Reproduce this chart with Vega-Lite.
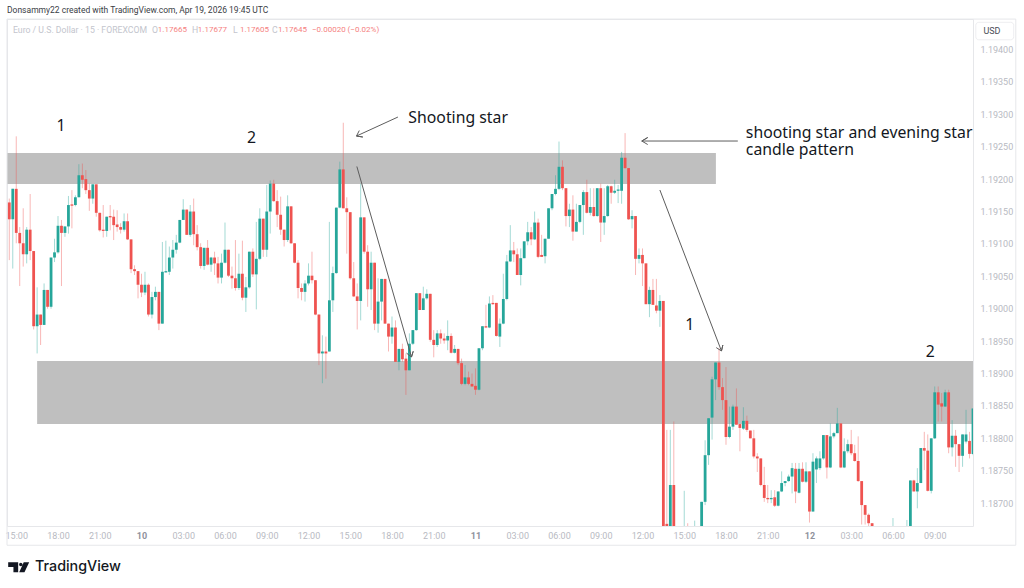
{
"$schema":"https://vega.github.io/schema/vega-lite/v6.json",
"autosize":{"type":"none"},
"padding":{"left":7,"top":19,"right":51,"bottom":62},
"width":966,
"height":507,
"background":"#ffffff",
"view":{"stroke":"#e6e7ea"},
"datasets":{
"zones":[{"x":-0.66,"x2":203.1,"top":1.192403,"bottom":1.191925},{"x":8,"x2":277,"top":1.189194,"bottom":1.188222}],
"frame":[{"n":0,"bar":-0.66,"price":1.18635},{"n":1,"bar":289.3,"price":1.18635},{"n":2,"bar":289.3,"price":1.19447},{"n":3,"bar":-0.66,"price":1.19447},{"n":4,"bar":-0.66,"price":1.18635}],
"arrows":[
{"id":"a1","n":0,"bar":99.9,"price":1.192195},{"id":"a1","n":1,"bar":115.6,"price":1.189255},{"id":"a1","n":2,"bar":116.1,"price":1.189343},{"id":"a1","n":3,"bar":115.6,"price":1.189255},{"id":"a1","n":4,"bar":114.2,"price":1.189314},
{"id":"a2","n":0,"bar":111.7,"price":1.192958},{"id":"a2","n":1,"bar":99.8,"price":1.192665},{"id":"a2","n":2,"bar":101.6,"price":1.19265},{"id":"a2","n":3,"bar":99.8,"price":1.192665},{"id":"a2","n":4,"bar":100.6,"price":1.19275},
{"id":"a3","n":0,"bar":209.4,"price":1.192588},{"id":"a3","n":1,"bar":181.8,"price":1.192588},{"id":"a3","n":2,"bar":183.5,"price":1.192642},{"id":"a3","n":3,"bar":181.8,"price":1.192588},{"id":"a3","n":4,"bar":183.5,"price":1.192534},
{"id":"a4","n":0,"bar":187,"price":1.191832},{"id":"a4","n":1,"bar":204.7,"price":1.189348},{"id":"a4","n":2,"bar":205.1,"price":1.18944},{"id":"a4","n":3,"bar":204.7,"price":1.189348},{"id":"a4","n":4,"bar":203.2,"price":1.1894}
],
"notes":[
{"label":"1","bar":13.6,"price":1.192815},{"label":"2","bar":68.3,"price":1.192635},{"label":"Shooting star","bar":114.7,"price":1.192945},
{"label":"shooting star and evening star\ncandle pattern","bar":211.7,"price":1.19271},
{"label":"1","bar":194.3,"price":1.189745},{"label":"2","bar":263.4,"price":1.189335}
],
"status":[
{"label":"Euro / U.S. Dollar · 15 · FOREXCOM","bar":1.06,"tone":"grey"},
{"label":"O","bar":41,"tone":"grey"},{"label":"1.17665","bar":42.7,"tone":"red"},
{"label":"H","bar":52.5,"tone":"grey"},{"label":"1.17677","bar":54.2,"tone":"red"},
{"label":"L","bar":64.3,"tone":"grey"},{"label":"1.17605","bar":66.3,"tone":"red"},
{"label":"C","bar":75.5,"tone":"grey"},{"label":"1.17645","bar":77.2,"tone":"red"},
{"label":"−0.00020 (−0.02%)","bar":87,"tone":"red"}
],
"candles":[
{"i":0,"o":1.19164,"h":1.19170,"l":1.19075,"c":1.19138},
{"i":1,"o":1.19138,"h":1.19185,"l":1.19062,"c":1.19185},
{"i":2,"o":1.19185,"h":1.19266,"l":1.19101,"c":1.19117},
{"i":3,"o":1.19117,"h":1.19126,"l":1.19035,"c":1.19101},
{"i":4,"o":1.19101,"h":1.19155,"l":1.19065,"c":1.19084},
{"i":5,"o":1.19084,"h":1.19126,"l":1.19070,"c":1.19122},
{"i":6,"o":1.19122,"h":1.19177,"l":1.19075,"c":1.19089},
{"i":7,"o":1.19089,"h":1.19089,"l":1.18968,"c":1.18973},
{"i":8,"o":1.18973,"h":1.19033,"l":1.18931,"c":1.18991},
{"i":9,"o":1.18991,"h":1.18991,"l":1.18944,"c":1.18975},
{"i":10,"o":1.18975,"h":1.19039,"l":1.18975,"c":1.19029},
{"i":11,"o":1.19029,"h":1.19029,"l":1.19000,"c":1.19003},
{"i":12,"o":1.19003,"h":1.19079,"l":1.19000,"c":1.19079},
{"i":13,"o":1.19079,"h":1.19108,"l":1.19072,"c":1.19087},
{"i":14,"o":1.19087,"h":1.19143,"l":1.19085,"c":1.19128},
{"i":15,"o":1.19128,"h":1.19137,"l":1.19035,"c":1.19117},
{"i":16,"o":1.19117,"h":1.19127,"l":1.19111,"c":1.19127},
{"i":17,"o":1.19127,"h":1.19174,"l":1.19116,"c":1.19160},
{"i":18,"o":1.19161,"h":1.19183,"l":1.19124,"c":1.19159},
{"i":19,"o":1.19160,"h":1.19175,"l":1.19158,"c":1.19172},
{"i":20,"o":1.19172,"h":1.19223,"l":1.19172,"c":1.19206},
{"i":21,"o":1.19206,"h":1.19224,"l":1.19186,"c":1.19199},
{"i":22,"o":1.19200,"h":1.19214,"l":1.19177,"c":1.19183},
{"i":23,"o":1.19183,"h":1.19193,"l":1.19151,"c":1.19170},
{"i":24,"o":1.19170,"h":1.19192,"l":1.19162,"c":1.19192},
{"i":25,"o":1.19192,"h":1.19192,"l":1.19142,"c":1.19148},
{"i":26,"o":1.19148,"h":1.19148,"l":1.19119,"c":1.19121},
{"i":27,"o":1.19122,"h":1.19160,"l":1.19110,"c":1.19120},
{"i":28,"o":1.19120,"h":1.19142,"l":1.19111,"c":1.19142},
{"i":29,"o":1.19143,"h":1.19160,"l":1.19121,"c":1.19141},
{"i":30,"o":1.19142,"h":1.19153,"l":1.19106,"c":1.19129},
{"i":31,"o":1.19130,"h":1.19152,"l":1.19119,"c":1.19126},
{"i":32,"o":1.19126,"h":1.19132,"l":1.19116,"c":1.19122},
{"i":33,"o":1.19122,"h":1.19147,"l":1.19119,"c":1.19135},
{"i":34,"o":1.19135,"h":1.19147,"l":1.19106,"c":1.19107},
{"i":35,"o":1.19107,"h":1.19107,"l":1.19055,"c":1.19061},
{"i":36,"o":1.19061,"h":1.19067,"l":1.19052,"c":1.19058},
{"i":37,"o":1.19058,"h":1.19058,"l":1.19016,"c":1.19037},
{"i":38,"o":1.19037,"h":1.19054,"l":1.19018,"c":1.19025},
{"i":39,"o":1.19025,"h":1.19057,"l":1.19021,"c":1.19037},
{"i":40,"o":1.19037,"h":1.19039,"l":1.18988,"c":1.18991},
{"i":41,"o":1.18991,"h":1.19026,"l":1.18985,"c":1.19018},
{"i":42,"o":1.19018,"h":1.19034,"l":1.19013,"c":1.19026},
{"i":43,"o":1.19026,"h":1.19026,"l":1.18967,"c":1.18977},
{"i":44,"o":1.18977,"h":1.19103,"l":1.18977,"c":1.19057},
{"i":45,"o":1.19056,"h":1.19105,"l":1.19056,"c":1.19058},
{"i":46,"o":1.19057,"h":1.19096,"l":1.19052,"c":1.19079},
{"i":47,"o":1.19079,"h":1.19106,"l":1.19062,"c":1.19091},
{"i":48,"o":1.19091,"h":1.19114,"l":1.19085,"c":1.19102},
{"i":49,"o":1.19102,"h":1.19137,"l":1.19101,"c":1.19137},
{"i":50,"o":1.19137,"h":1.19169,"l":1.19137,"c":1.19153},
{"i":51,"o":1.19153,"h":1.19153,"l":1.19114,"c":1.19114},
{"i":52,"o":1.19114,"h":1.19160,"l":1.19111,"c":1.19150},
{"i":53,"o":1.19150,"h":1.19170,"l":1.19098,"c":1.19115},
{"i":54,"o":1.19115,"h":1.19129,"l":1.19090,"c":1.19095},
{"i":55,"o":1.19095,"h":1.19101,"l":1.19062,"c":1.19066},
{"i":56,"o":1.19066,"h":1.19094,"l":1.19060,"c":1.19094},
{"i":57,"o":1.19094,"h":1.19106,"l":1.19067,"c":1.19068},
{"i":58,"o":1.19068,"h":1.19080,"l":1.19057,"c":1.19079},
{"i":59,"o":1.19079,"h":1.19088,"l":1.19052,"c":1.19070},
{"i":60,"o":1.19070,"h":1.19080,"l":1.19039,"c":1.19048},
{"i":61,"o":1.19048,"h":1.19085,"l":1.19039,"c":1.19071},
{"i":62,"o":1.19071,"h":1.19133,"l":1.19070,"c":1.19091},
{"i":63,"o":1.19091,"h":1.19091,"l":1.19049,"c":1.19051},
{"i":64,"o":1.19051,"h":1.19065,"l":1.19031,"c":1.19047},
{"i":65,"o":1.19047,"h":1.19106,"l":1.19028,"c":1.19032},
{"i":66,"o":1.19032,"h":1.19085,"l":1.19029,"c":1.19054},
{"i":67,"o":1.19054,"h":1.19105,"l":1.19013,"c":1.19017},
{"i":68,"o":1.19017,"h":1.19049,"l":1.18995,"c":1.19033},
{"i":69,"o":1.19033,"h":1.19088,"l":1.19031,"c":1.19088},
{"i":70,"o":1.19088,"h":1.19093,"l":1.19049,"c":1.19053},
{"i":71,"o":1.19053,"h":1.19134,"l":1.18999,"c":1.19077},
{"i":72,"o":1.19077,"h":1.19155,"l":1.19075,"c":1.19139},
{"i":73,"o":1.19139,"h":1.19139,"l":1.19080,"c":1.19091},
{"i":74,"o":1.19091,"h":1.19191,"l":1.19080,"c":1.19150},
{"i":75,"o":1.19150,"h":1.19198,"l":1.19116,"c":1.19193},
{"i":76,"o":1.19193,"h":1.19199,"l":1.19165,"c":1.19166},
{"i":77,"o":1.19166,"h":1.19183,"l":1.19126,"c":1.19145},
{"i":78,"o":1.19145,"h":1.19173,"l":1.19114,"c":1.19122},
{"i":79,"o":1.19122,"h":1.19122,"l":1.19096,"c":1.19106},
{"i":80,"o":1.19106,"h":1.19175,"l":1.19103,"c":1.19158},
{"i":81,"o":1.19158,"h":1.19158,"l":1.19100,"c":1.19101},
{"i":82,"o":1.19101,"h":1.19101,"l":1.19070,"c":1.19071},
{"i":83,"o":1.19071,"h":1.19075,"l":1.19016,"c":1.19032},
{"i":84,"o":1.19032,"h":1.19039,"l":1.19013,"c":1.19026},
{"i":85,"o":1.19026,"h":1.19044,"l":1.19011,"c":1.19039},
{"i":86,"o":1.19039,"h":1.19070,"l":1.19036,"c":1.19051},
{"i":87,"o":1.19051,"h":1.19088,"l":1.19039,"c":1.19044},
{"i":88,"o":1.19044,"h":1.19044,"l":1.18990,"c":1.18991},
{"i":89,"o":1.18991,"h":1.18991,"l":1.18913,"c":1.18931},
{"i":90,"o":1.18931,"h":1.18959,"l":1.18885,"c":1.18934},
{"i":91,"o":1.18934,"h":1.18957,"l":1.18892,"c":1.18931},
{"i":92,"o":1.18934,"h":1.19134,"l":1.18934,"c":1.19013},
{"i":93,"o":1.19013,"h":1.19065,"l":1.18995,"c":1.19055},
{"i":94,"o":1.19055,"h":1.19156,"l":1.19054,"c":1.19156},
{"i":95,"o":1.19156,"h":1.19227,"l":1.19155,"c":1.19215},
{"i":96,"o":1.19215,"h":1.19287,"l":1.19155,"c":1.19155},
{"i":97,"o":1.19155,"h":1.19172,"l":1.19085,"c":1.19149},
{"i":98,"o":1.19149,"h":1.19149,"l":1.19045,"c":1.19047},
{"i":99,"o":1.19047,"h":1.19072,"l":1.19018,"c":1.19019},
{"i":100,"o":1.19019,"h":1.19039,"l":1.18968,"c":1.19012},
{"i":101,"o":1.19012,"h":1.19193,"l":1.18982,"c":1.19141},
{"i":102,"o":1.19141,"h":1.19141,"l":1.19085,"c":1.19088},
{"i":103,"o":1.19088,"h":1.19098,"l":1.19003,"c":1.19030},
{"i":104,"o":1.19030,"h":1.19088,"l":1.18998,"c":1.19071},
{"i":105,"o":1.19071,"h":1.19071,"l":1.18967,"c":1.18977},
{"i":106,"o":1.18977,"h":1.19047,"l":1.18963,"c":1.19011},
{"i":107,"o":1.19011,"h":1.19046,"l":1.18982,"c":1.19046},
{"i":108,"o":1.19046,"h":1.19046,"l":1.18977,"c":1.18977},
{"i":109,"o":1.18977,"h":1.18977,"l":1.18934,"c":1.18957},
{"i":110,"o":1.18957,"h":1.18988,"l":1.18946,"c":1.18971},
{"i":111,"o":1.18971,"h":1.18982,"l":1.18918,"c":1.18918},
{"i":112,"o":1.18918,"h":1.18938,"l":1.18905,"c":1.18938},
{"i":113,"o":1.18938,"h":1.18946,"l":1.18918,"c":1.18922},
{"i":114,"o":1.18923,"h":1.18931,"l":1.18867,"c":1.18905},
{"i":115,"o":1.18905,"h":1.18962,"l":1.18905,"c":1.18946},
{"i":116,"o":1.18946,"h":1.18967,"l":1.18944,"c":1.18967},
{"i":117,"o":1.18967,"h":1.19024,"l":1.18966,"c":1.19024},
{"i":118,"o":1.19024,"h":1.19024,"l":1.18998,"c":1.18998},
{"i":119,"o":1.18998,"h":1.19034,"l":1.18998,"c":1.19016},
{"i":120,"o":1.19016,"h":1.19030,"l":1.19014,"c":1.19023},
{"i":121,"o":1.19023,"h":1.19023,"l":1.18949,"c":1.18952},
{"i":122,"o":1.18952,"h":1.18967,"l":1.18925,"c":1.18944},
{"i":123,"o":1.18944,"h":1.18967,"l":1.18941,"c":1.18962},
{"i":124,"o":1.18962,"h":1.18968,"l":1.18946,"c":1.18954},
{"i":125,"o":1.18954,"h":1.18962,"l":1.18946,"c":1.18951},
{"i":126,"o":1.18951,"h":1.18982,"l":1.18936,"c":1.18958},
{"i":127,"o":1.18958,"h":1.18962,"l":1.18931,"c":1.18932},
{"i":128,"o":1.18932,"h":1.18944,"l":1.18931,"c":1.18938},
{"i":129,"o":1.18938,"h":1.18938,"l":1.18913,"c":1.18916},
{"i":130,"o":1.18916,"h":1.18923,"l":1.18882,"c":1.18884},
{"i":131,"o":1.18884,"h":1.18913,"l":1.18882,"c":1.18894},
{"i":132,"o":1.18894,"h":1.18903,"l":1.18882,"c":1.18884},
{"i":133,"o":1.18884,"h":1.18900,"l":1.18880,"c":1.18880},
{"i":134,"o":1.18881,"h":1.18908,"l":1.18867,"c":1.18875},
{"i":135,"o":1.18875,"h":1.18939,"l":1.18874,"c":1.18939},
{"i":136,"o":1.18939,"h":1.18973,"l":1.18936,"c":1.18973},
{"i":137,"o":1.18973,"h":1.19006,"l":1.18970,"c":1.18971},
{"i":138,"o":1.18971,"h":1.19019,"l":1.18970,"c":1.19008},
{"i":139,"o":1.19009,"h":1.19021,"l":1.19006,"c":1.19007},
{"i":140,"o":1.19009,"h":1.19009,"l":1.18957,"c":1.18958},
{"i":141,"o":1.18957,"h":1.18985,"l":1.18941,"c":1.18977},
{"i":142,"o":1.18977,"h":1.19054,"l":1.18976,"c":1.19015},
{"i":143,"o":1.19015,"h":1.19083,"l":1.19013,"c":1.19073},
{"i":144,"o":1.19073,"h":1.19129,"l":1.19072,"c":1.19090},
{"i":145,"o":1.19090,"h":1.19103,"l":1.19072,"c":1.19084},
{"i":146,"o":1.19084,"h":1.19093,"l":1.19052,"c":1.19052},
{"i":147,"o":1.19052,"h":1.19093,"l":1.19036,"c":1.19078},
{"i":148,"o":1.19078,"h":1.19104,"l":1.19078,"c":1.19104},
{"i":149,"o":1.19104,"h":1.19134,"l":1.19098,"c":1.19118},
{"i":150,"o":1.19118,"h":1.19126,"l":1.19098,"c":1.19107},
{"i":151,"o":1.19107,"h":1.19150,"l":1.19106,"c":1.19133},
{"i":152,"o":1.19133,"h":1.19139,"l":1.19078,"c":1.19080},
{"i":153,"o":1.19083,"h":1.19114,"l":1.19080,"c":1.19080},
{"i":154,"o":1.19081,"h":1.19108,"l":1.19070,"c":1.19108},
{"i":155,"o":1.19108,"h":1.19155,"l":1.19108,"c":1.19155},
{"i":156,"o":1.19155,"h":1.19177,"l":1.19152,"c":1.19177},
{"i":157,"o":1.19177,"h":1.19206,"l":1.19175,"c":1.19185},
{"i":158,"o":1.19185,"h":1.19258,"l":1.19183,"c":1.19219},
{"i":159,"o":1.19219,"h":1.19229,"l":1.19183,"c":1.19186},
{"i":160,"o":1.19186,"h":1.19186,"l":1.19127,"c":1.19143},
{"i":161,"o":1.19143,"h":1.19162,"l":1.19126,"c":1.19153},
{"i":162,"o":1.19153,"h":1.19175,"l":1.19105,"c":1.19119},
{"i":163,"o":1.19119,"h":1.19162,"l":1.19119,"c":1.19134},
{"i":164,"o":1.19134,"h":1.19160,"l":1.19132,"c":1.19160},
{"i":165,"o":1.19160,"h":1.19183,"l":1.19114,"c":1.19180},
{"i":166,"o":1.19180,"h":1.19199,"l":1.19147,"c":1.19148},
{"i":167,"o":1.19148,"h":1.19186,"l":1.19144,"c":1.19157},
{"i":168,"o":1.19157,"h":1.19186,"l":1.19142,"c":1.19143},
{"i":169,"o":1.19143,"h":1.19186,"l":1.19142,"c":1.19186},
{"i":170,"o":1.19186,"h":1.19193,"l":1.19103,"c":1.19133},
{"i":171,"o":1.19133,"h":1.19186,"l":1.19114,"c":1.19143},
{"i":172,"o":1.19143,"h":1.19191,"l":1.19142,"c":1.19189},
{"i":173,"o":1.19189,"h":1.19190,"l":1.19162,"c":1.19179},
{"i":174,"o":1.19179,"h":1.19199,"l":1.19177,"c":1.19182},
{"i":175,"o":1.19182,"h":1.19191,"l":1.19163,"c":1.19184},
{"i":176,"o":1.19182,"h":1.19242,"l":1.19162,"c":1.19233},
{"i":177,"o":1.19233,"h":1.19271,"l":1.19216,"c":1.19217},
{"i":178,"o":1.19217,"h":1.19217,"l":1.19137,"c":1.19138},
{"i":179,"o":1.19138,"h":1.19152,"l":1.19124,"c":1.19143},
{"i":180,"o":1.19143,"h":1.19143,"l":1.19052,"c":1.19077},
{"i":181,"o":1.19077,"h":1.19093,"l":1.19070,"c":1.19083},
{"i":182,"o":1.19083,"h":1.19093,"l":1.19035,"c":1.19070},
{"i":183,"o":1.19070,"h":1.19070,"l":1.19007,"c":1.19007},
{"i":184,"o":1.19007,"h":1.19034,"l":1.18987,"c":1.19029},
{"i":185,"o":1.19029,"h":1.19046,"l":1.19006,"c":1.19006},
{"i":186,"o":1.19005,"h":1.19046,"l":1.18993,"c":1.18997},
{"i":187,"o":1.18997,"h":1.19021,"l":1.18972,"c":1.19012},
{"i":188,"o":1.19012,"h":1.19012,"l":1.18620,"c":1.18640},
{"i":189,"o":1.18668,"h":1.18813,"l":1.18620,"c":1.18650},
{"i":190,"o":1.18650,"h":1.18813,"l":1.18630,"c":1.18728},
{"i":191,"o":1.18728,"h":1.18826,"l":1.18620,"c":1.18640},
{"i":192,"o":1.18640,"h":1.18650,"l":1.18600,"c":1.18620},
{"i":193,"o":1.18620,"h":1.18640,"l":1.18590,"c":1.18600},
{"i":194,"o":1.18600,"h":1.18719,"l":1.18590,"c":1.18640},
{"i":195,"o":1.18640,"h":1.18669,"l":1.18600,"c":1.18620},
{"i":196,"o":1.18620,"h":1.18640,"l":1.18590,"c":1.18600},
{"i":197,"o":1.18600,"h":1.18673,"l":1.18590,"c":1.18635},
{"i":198,"o":1.18610,"h":1.18650,"l":1.18600,"c":1.18640},
{"i":199,"o":1.18640,"h":1.18702,"l":1.18630,"c":1.18702},
{"i":200,"o":1.18702,"h":1.18797,"l":1.18697,"c":1.18774},
{"i":201,"o":1.18774,"h":1.18831,"l":1.18759,"c":1.18831},
{"i":202,"o":1.18832,"h":1.18895,"l":1.18798,"c":1.18891},
{"i":203,"o":1.18891,"h":1.18917,"l":1.18859,"c":1.18917},
{"i":204,"o":1.18917,"h":1.18939,"l":1.18875,"c":1.18879},
{"i":205,"o":1.18879,"h":1.18893,"l":1.18844,"c":1.18859},
{"i":206,"o":1.18859,"h":1.18910,"l":1.18790,"c":1.18802},
{"i":207,"o":1.18802,"h":1.18849,"l":1.18800,"c":1.18818},
{"i":208,"o":1.18818,"h":1.18852,"l":1.18813,"c":1.18849},
{"i":209,"o":1.18849,"h":1.18877,"l":1.18821,"c":1.18821},
{"i":210,"o":1.18822,"h":1.18822,"l":1.18780,"c":1.18816},
{"i":211,"o":1.18815,"h":1.18848,"l":1.18813,"c":1.18827},
{"i":212,"o":1.18827,"h":1.18835,"l":1.18810,"c":1.18813},
{"i":213,"o":1.18812,"h":1.18812,"l":1.18800,"c":1.18800},
{"i":214,"o":1.18800,"h":1.18813,"l":1.18769,"c":1.18772},
{"i":215,"o":1.18772,"h":1.18777,"l":1.18748,"c":1.18769},
{"i":216,"o":1.18769,"h":1.18769,"l":1.18726,"c":1.18728},
{"i":217,"o":1.18728,"h":1.18756,"l":1.18702,"c":1.18708},
{"i":218,"o":1.18708,"h":1.18728,"l":1.18700,"c":1.18706},
{"i":219,"o":1.18706,"h":1.18720,"l":1.18700,"c":1.18708},
{"i":220,"o":1.18709,"h":1.18720,"l":1.18694,"c":1.18696},
{"i":221,"o":1.18696,"h":1.18718,"l":1.18695,"c":1.18718},
{"i":222,"o":1.18718,"h":1.18749,"l":1.18717,"c":1.18731},
{"i":223,"o":1.18731,"h":1.18734,"l":1.18726,"c":1.18734},
{"i":224,"o":1.18734,"h":1.18744,"l":1.18733,"c":1.18741},
{"i":225,"o":1.18741,"h":1.18762,"l":1.18715,"c":1.18754},
{"i":226,"o":1.18753,"h":1.18762,"l":1.18700,"c":1.18718},
{"i":227,"o":1.18716,"h":1.18762,"l":1.18715,"c":1.18753},
{"i":228,"o":1.18753,"h":1.18763,"l":1.18732,"c":1.18733},
{"i":229,"o":1.18733,"h":1.18763,"l":1.18731,"c":1.18749},
{"i":230,"o":1.18749,"h":1.18749,"l":1.18670,"c":1.18687},
{"i":231,"o":1.18687,"h":1.18777,"l":1.18687,"c":1.18764},
{"i":232,"o":1.18752,"h":1.18772,"l":1.18731,"c":1.18769},
{"i":233,"o":1.18754,"h":1.18780,"l":1.18751,"c":1.18769},
{"i":234,"o":1.18769,"h":1.18805,"l":1.18767,"c":1.18805},
{"i":235,"o":1.18805,"h":1.18805,"l":1.18738,"c":1.18755},
{"i":236,"o":1.18755,"h":1.18823,"l":1.18754,"c":1.18803},
{"i":237,"o":1.18803,"h":1.18810,"l":1.18800,"c":1.18808},
{"i":238,"o":1.18808,"h":1.18847,"l":1.18808,"c":1.18823},
{"i":239,"o":1.18823,"h":1.18823,"l":1.18754,"c":1.18755},
{"i":240,"o":1.18755,"h":1.18800,"l":1.18754,"c":1.18780},
{"i":241,"o":1.18780,"h":1.18798,"l":1.18777,"c":1.18791},
{"i":242,"o":1.18791,"h":1.18813,"l":1.18774,"c":1.18777},
{"i":243,"o":1.18777,"h":1.18790,"l":1.18764,"c":1.18765},
{"i":244,"o":1.18765,"h":1.18803,"l":1.18733,"c":1.18734},
{"i":245,"o":1.18734,"h":1.18734,"l":1.18667,"c":1.18697},
{"i":246,"o":1.18697,"h":1.18697,"l":1.18667,"c":1.18682},
{"i":247,"o":1.18682,"h":1.18684,"l":1.18660,"c":1.18669},
{"i":248,"o":1.18669,"h":1.18669,"l":1.18650,"c":1.18660},
{"i":249,"o":1.18660,"h":1.18662,"l":1.18640,"c":1.18650},
{"i":250,"o":1.18650,"h":1.18655,"l":1.18630,"c":1.18640},
{"i":251,"o":1.18635,"h":1.18655,"l":1.18625,"c":1.18650},
{"i":252,"o":1.18650,"h":1.18655,"l":1.18620,"c":1.18630},
{"i":253,"o":1.18630,"h":1.18655,"l":1.18620,"c":1.18645},
{"i":254,"o":1.18640,"h":1.18677,"l":1.18630,"c":1.18655},
{"i":255,"o":1.18655,"h":1.18660,"l":1.18630,"c":1.18640},
{"i":256,"o":1.18640,"h":1.18660,"l":1.18630,"c":1.18650},
{"i":257,"o":1.18645,"h":1.18660,"l":1.18640,"c":1.18658},
{"i":258,"o":1.18650,"h":1.18674,"l":1.18640,"c":1.18660},
{"i":259,"o":1.18660,"h":1.18735,"l":1.18650,"c":1.18735},
{"i":260,"o":1.18735,"h":1.18736,"l":1.18718,"c":1.18718},
{"i":261,"o":1.18718,"h":1.18754,"l":1.18692,"c":1.18731},
{"i":262,"o":1.18731,"h":1.18785,"l":1.18731,"c":1.18785},
{"i":263,"o":1.18785,"h":1.18810,"l":1.18751,"c":1.18781},
{"i":264,"o":1.18781,"h":1.18806,"l":1.18718,"c":1.18719},
{"i":265,"o":1.18719,"h":1.18800,"l":1.18715,"c":1.18800},
{"i":266,"o":1.18800,"h":1.18880,"l":1.18799,"c":1.18871},
{"i":267,"o":1.18871,"h":1.18880,"l":1.18826,"c":1.18852},
{"i":268,"o":1.18854,"h":1.18870,"l":1.18826,"c":1.18849},
{"i":269,"o":1.18849,"h":1.18875,"l":1.18849,"c":1.18871},
{"i":270,"o":1.18871,"h":1.18875,"l":1.18777,"c":1.18786},
{"i":271,"o":1.18786,"h":1.18828,"l":1.18772,"c":1.18804},
{"i":272,"o":1.18804,"h":1.18813,"l":1.18756,"c":1.18791},
{"i":273,"o":1.18791,"h":1.18791,"l":1.18748,"c":1.18773},
{"i":274,"o":1.18773,"h":1.18806,"l":1.18756,"c":1.18806},
{"i":275,"o":1.18795,"h":1.18844,"l":1.18792,"c":1.18806},
{"i":276,"o":1.18796,"h":1.18810,"l":1.18769,"c":1.18776},
{"i":277,"o":1.18776,"h":1.18846,"l":1.18774,"c":1.18846}
]
},
"layer":[
{
"data":{"name":"zones"},
"mark":{"type":"rect","color":"#bfbfbf"},
"encoding":{
"x":{"field":"x","type":"quantitative","scale":{"domain":[-0.66,277],"nice":false,"zero":false,"padding":0},
"axis":{"title":null,"grid":false,"domain":false,"ticks":false,"orient":"bottom","tickCount":30,
"values":[2,14,26,38,50,62,74,86,98,110,122,134,146,158,170,182,194,206,218,230,242,254,266],
"labelExpr":"['15:00','18:00','21:00','10','03:00','06:00','09:00','12:00','15:00','18:00','21:00','11','03:00','06:00','09:00','12:00','15:00','18:00','21:00','12','03:00','06:00','09:00'][(datum.value-2)/12]",
"labelFont":"Roboto","labelFontSize":9,"labelPadding":5,"labelFlush":false,"labelOverlap":false,
"labelColor":{"condition":{"test":"datum.value==38||datum.value==134||datum.value==230","value":"#8f929c"},"value":"#b8bac2"},
"labelFontWeight":{"condition":{"test":"datum.value==38||datum.value==134||datum.value==230","value":"bold"},"value":"normal"}}},
"x2":{"field":"x2"},
"y":{"field":"top","type":"quantitative","scale":{"domain":[1.186647,1.194471],"nice":false,"zero":false},
"axis":{"title":null,"grid":false,"domain":false,"ticks":false,"orient":"right","tickCount":30,
"values":[1.187,1.1875,1.188,1.1885,1.189,1.1895,1.19,1.1905,1.191,1.1915,1.192,1.1925,1.193,1.1935,1.194],
"format":".5f","labelFont":"Roboto","labelFontSize":9,"labelPadding":7,"labelOverlap":false,"labelColor":"#b8bac2"}},
"y2":{"field":"bottom"}
}
},
{
"data":{"name":"frame"},
"mark":{"type":"line","color":"#e6e7ea","strokeWidth":1,"clip":false},
"encoding":{
"x":{"field":"bar","type":"quantitative"},
"y":{"field":"price","type":"quantitative"},
"order":{"field":"n"}
}
},
{
"data":{"name":"candles"},
"mark":{"type":"rule","strokeWidth":1,"opacity":0.42,"clip":true},
"encoding":{
"x":{"field":"i","type":"quantitative"},
"y":{"field":"l","type":"quantitative"},
"y2":{"field":"h"},
"color":{"condition":{"test":"datum.c>=datum.o","value":"#26a69a"},"value":"#ef5350"}
}
},
{
"data":{"name":"candles"},
"mark":{"type":"bar","size":2.8,"clip":true},
"encoding":{
"x":{"field":"i","type":"quantitative"},
"y":{"field":"o","type":"quantitative"},
"y2":{"field":"c"},
"color":{"condition":{"test":"datum.c>=datum.o","value":"#26a69a"},"value":"#ef5350"}
}
},
{
"data":{"name":"arrows"},
"mark":{"type":"line","color":"#5d5d5d","strokeWidth":1},
"encoding":{
"x":{"field":"bar","type":"quantitative"},
"y":{"field":"price","type":"quantitative"},
"detail":{"field":"id"},
"order":{"field":"n"}
}
},
{
"data":{"name":"notes"},
"mark":{"type":"text","align":"left","baseline":"middle","font":"Noto Sans","fontSize":15.8,"color":"#131722","lineBreak":"\n","lineHeight":17},
"encoding":{
"x":{"field":"bar","type":"quantitative"},
"y":{"field":"price","type":"quantitative"},
"text":{"field":"label"}
}
},
{
"data":{"name":"status"},
"mark":{"type":"text","align":"left","baseline":"middle","font":"Roboto"},
"encoding":{
"x":{"field":"bar","type":"quantitative"},
"y":{"datum":1.1943,"type":"quantitative"},
"text":{"field":"label"},
"size":{"condition":{"test":"datum.tone=='red'","value":8},"value":8.7},
"color":{"field":"tone","type":"nominal","legend":null,"scale":{"domain":["grey","red"],"range":["#c3c5cd","#f57f7f"]}}
}
},
{
"data":{"values":[{"label":"Donsammy22 created with TradingView.com, Apr 19, 2026 19:45 UTC","bar":-0.66,"price":1.19461}]},
"mark":{"type":"text","align":"left","baseline":"middle","font":"Roboto","fontSize":8.5,"color":"#3a3d45"},
"encoding":{
"x":{"field":"bar","type":"quantitative"},
"y":{"field":"price","type":"quantitative"},
"text":{"field":"label"}
}
},
{
"data":{"values":[{"label":"TradingView","bar":7.4,"price":1.18601}]},
"mark":{"type":"text","align":"left","baseline":"middle","font":"Inter","fontSize":14.3,"fontWeight":500,"color":"#131722"},
"encoding":{
"x":{"field":"bar","type":"quantitative"},
"y":{"field":"price","type":"quantitative"},
"text":{"field":"label"}
}
},
{
"data":{"values":[{"bar":2.7,"price":1.18601}]},
"mark":{"type":"point","filled":true,"opacity":1,"size":441,"color":"#131722","shape":"M-1,-.48H-.05V.48H-.5V-.02H-1Z M.04,-.26a.16,.16 0 1 0 .32,0a.16,.16 0 1 0 -.32,0Z M.48,-.48H1L.55,.48H.05Z"},
"encoding":{
"x":{"field":"bar","type":"quantitative"},
"y":{"field":"price","type":"quantitative"}
}
},
{
"data":{"values":[{"x":277.8,"x2":288.7,"top":1.19442,"bottom":1.19415}]},
"mark":{"type":"rect","fill":"#ffffff","stroke":"#eeeef1","cornerRadius":3},
"encoding":{
"x":{"field":"x","type":"quantitative"},
"x2":{"field":"x2"},
"y":{"field":"top","type":"quantitative"},
"y2":{"field":"bottom"}
}
},
{
"data":{"values":[{"label":"USD","bar":280,"price":1.194285}]},
"mark":{"type":"text","align":"left","baseline":"middle","font":"Roboto","fontSize":9,"color":"#4a4e57"},
"encoding":{
"x":{"field":"bar","type":"quantitative"},
"y":{"field":"price","type":"quantitative"},
"text":{"field":"label"}
}
}
]
}
